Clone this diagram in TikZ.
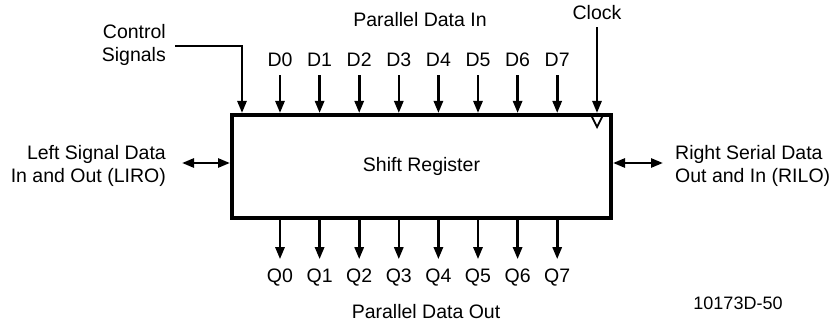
\documentclass[tikz,border=0pt]{standalone}
\usepackage{fontspec}
\setmainfont{Liberation Sans}
\usetikzlibrary{positioning, arrows.meta, calc}

\begin{document}
\begin{tikzpicture}[x=1pt, y=-1pt]
	\tikzset{
		sig/.style={line width=2.6pt, -{Triangle[length=12pt, width=9pt]}},
		bisig/.style={line width=2.6pt, {Triangle[length=12pt, width=9pt]}-{Triangle[length=12pt, width=9pt]}},
		lbl/.style={font=\fontsize{19.5}{23}\selectfont, inner sep=0pt},
		regbox/.style={draw, line width=4pt, minimum width=379pt, minimum height=103pt, font=\fontsize{19.5}{23}\selectfont}
	}
	\useasboundingbox (0,0) rectangle (838,326);
	% register
	\node[regbox] (reg) at (421.5,166.5) {Shift Register};
	% parallel inputs and outputs
	\foreach \i in {0,...,7} {
		\node[lbl, anchor=base] (D\i) at (280+39.6*\i, 67) {D\i};
		\node[lbl, anchor=base] (Q\i) at (280+39.6*\i, 282) {Q\i};
		\draw[sig, shorten <=8pt] (D\i.south) -- (reg.north -| D\i);
		\draw[sig, shorten >=9pt] (reg.south -| Q\i) -- (Q\i.north);
	}
	\node[lbl] (pin) at (420,20) {Parallel Data In};
	\node[lbl] (pout) at (426,312) {Parallel Data Out};
	% clock
	\node[lbl, anchor=base] (clk) at (597,20) {Clock};
	\draw[sig, shorten <=7pt] (clk.south) -- (reg.north -| clk);
	\draw[line width=1.8pt, line join=miter] ($(reg.north -| clk)+(-6,2)$) -- ($(reg.north -| clk)+(6,2)$) -- ($(reg.north -| clk)+(0,14)$) -- cycle;
	% control
	\node[lbl, align=right, anchor=east] (ctl) at (166,45) {Control\\Signals};
	\coordinate (cdn) at (242,46);
	\draw[sig] ([xshift=9pt]ctl.east |- cdn) -| (reg.north -| cdn);
	% serial ports
	\node[lbl, align=right, anchor=east] (lft) at (166,166) {Left Signal Data\\In and Out (LIRO)};
	\node[lbl, align=left, anchor=west] (rgt) at (675,166) {Right Serial Data\\Out and In (RILO)};
	\draw[bisig, shorten <=16pt] (lft.east |- 0,163) -- (reg.west |- 0,163);
	\draw[bisig, shorten >=12pt] (reg.east |- 0,163) -- (rgt.west |- 0,163);
	% figure number
	\node[lbl, font=\fontsize{18}{22}\selectfont] (fig) at (738,303) {10173D-50};
\end{tikzpicture}
\end{document}
